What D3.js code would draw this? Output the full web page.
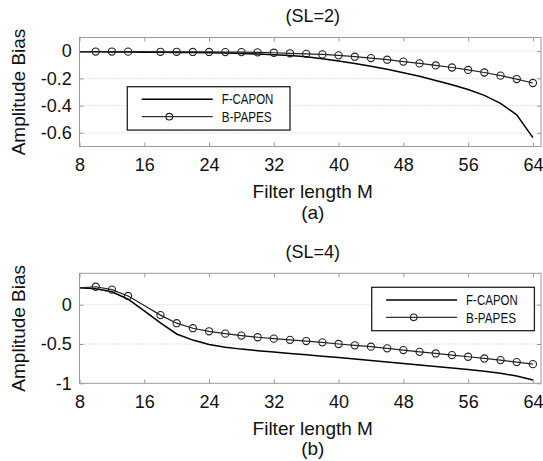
<!DOCTYPE html>
<html>
<head>
<meta charset="utf-8">
<script src="https://cdn.jsdelivr.net/npm/d3@7"></script>
<style>
  html, body { margin: 0; padding: 0; background: #fff; }
  svg { display: block; font-family: "Liberation Sans", Arial, Helvetica, sans-serif; }
</style>
</head>
<body>
<svg id="chart" width="543" height="461"></svg>
<script>
// ---- data ----
const filterM = [8,10,12,14,16,18,20,22,24,26,28,30,32,34,36,38,40,42,44,46,48,50,52,54,56,58,60,62,64];
const markerM = [10,12,14,18,20,22,24,26,28,30,32,34,36,38,40,42,44,46,48,50,52,54,56,58,60,62,64];

const caponSL2 = [-0.005,-0.005,-0.006,-0.007,-0.008,-0.009,-0.010,-0.011,-0.012,-0.014,-0.017,-0.021,-0.027,-0.033,-0.041,-0.056,-0.073,-0.091,-0.111,-0.133,-0.158,-0.185,-0.215,-0.247,-0.282,-0.325,-0.383,-0.468,-0.635];
const papesSL2 = [-0.003,-0.003,-0.003,-0.004,-0.004,-0.005,-0.005,-0.006,-0.006,-0.007,-0.007,-0.009,-0.012,-0.016,-0.020,-0.024,-0.031,-0.041,-0.051,-0.063,-0.077,-0.090,-0.105,-0.120,-0.138,-0.157,-0.180,-0.205,-0.234];

const caponSL4 = [0.215,0.203,0.165,0.070,-0.078,-0.232,-0.372,-0.450,-0.505,-0.540,-0.565,-0.585,-0.603,-0.620,-0.637,-0.655,-0.672,-0.690,-0.710,-0.728,-0.748,-0.767,-0.786,-0.805,-0.825,-0.847,-0.873,-0.907,-0.957];
const papesSL4 = [0.215,0.229,0.192,0.111,-0.010,-0.132,-0.235,-0.299,-0.338,-0.368,-0.393,-0.414,-0.432,-0.447,-0.462,-0.479,-0.500,-0.517,-0.534,-0.555,-0.577,-0.600,-0.620,-0.641,-0.662,-0.684,-0.705,-0.730,-0.756];

const xTicks = [8,16,24,32,40,48,56,64];
const yTicksSL2 = [0,-0.2,-0.4,-0.6];
const yTicksSL4 = [0,-0.5,-1];
const seriesNames = ["F-CAPON","B-PAPES"];
const titles = ["(SL=2)","(SL=4)"];
const subLabels = ["(a)","(b)"];
const xLabel = "Filter length M";
const yLabel = "Amplitude Bias";

// ---- layout ----
const svg = d3.select("#chart");
const plotLeft = 79.5, plotRight = 541;
const x = d3.scaleLinear().domain([8, 65]).range([plotLeft, plotRight]);

const panels = [
  { top: 37.5, bottom: 146.5, yDomain: [-0.7, 0.1], yTicks: yTicksSL2,
    capon: caponSL2, papes: papesSL2, title: titles[0], sub: subLabels[0],
    legend: { x: 127.3, y: 86.7 } },
  { top: 273.3, bottom: 383.3, yDomain: [-1, 0.4], yTicks: yTicksSL4,
    capon: caponSL4, papes: papesSL4, title: titles[1], sub: subLabels[1],
    legend: { x: 371.7, y: 287.3 } }
];

const boxColor = "#9a9a9a";

panels.forEach((p, pi) => {
  const y = d3.scaleLinear().domain(p.yDomain).range([p.bottom, p.top]);
  const g = svg.append("g");
  const cx = (plotLeft + plotRight) / 2 + 2.5;

  // grid
  g.append("g").selectAll("line").data(p.yTicks.filter(t => y(t) < p.bottom - 1))
    .join("line")
    .attr("x1", plotLeft).attr("x2", plotRight)
    .attr("y1", d => y(d)).attr("y2", d => y(d))
    .attr("stroke", "#c8c8c8").attr("stroke-width", 1)
    .attr("stroke-dasharray", "1,2");

  // axes
  const axB = g.append("g").attr("transform", `translate(0,${p.bottom})`)
    .call(d3.axisBottom(x).tickValues(xTicks).tickSize(-4).tickPadding(12.2).tickFormat(d => String(d)));
  const axT = g.append("g").attr("transform", `translate(0,${p.top})`)
    .call(d3.axisTop(x).tickValues(xTicks).tickSize(-4).tickFormat(""));
  const axL = g.append("g").attr("transform", `translate(${plotLeft},0)`)
    .call(d3.axisLeft(y).tickValues(p.yTicks).tickSize(-4).tickPadding(7.8).tickFormat(d => String(d)));
  const axR = g.append("g").attr("transform", `translate(${plotRight},0)`)
    .call(d3.axisRight(y).tickValues(p.yTicks).tickSize(-4).tickFormat(""));
  [axB, axT, axL, axR].forEach(a => {
    a.select(".domain").remove();
    a.selectAll(".tick line").attr("stroke", boxColor);
    a.selectAll("text").attr("font-size", 18).attr("fill", "#111")
      .attr("font-family", '"Liberation Sans", Arial, sans-serif');
  });

  // clip
  const clipId = "clip" + pi;
  svg.append("clipPath").attr("id", clipId).append("rect")
    .attr("x", plotLeft).attr("y", p.top)
    .attr("width", plotRight - plotLeft).attr("height", p.bottom - p.top);

  const data = g.append("g").attr("clip-path", `url(#${clipId})`);
  const line = d3.line().x((d, i) => x(filterM[i])).y(d => y(d));

  data.append("path").datum(p.capon).attr("d", line)
    .attr("fill", "none").attr("stroke", "#000").attr("stroke-width", 1.5);
  data.append("path").datum(p.papes).attr("d", line)
    .attr("fill", "none").attr("stroke", "#222").attr("stroke-width", 1.2);
  data.append("g").selectAll("circle").data(markerM).join("circle")
    .attr("cx", m => x(m))
    .attr("cy", m => y(p.papes[filterM.indexOf(m)]))
    .attr("r", 3.6).attr("fill", "none").attr("stroke", "#222").attr("stroke-width", 1.1);

  // box
  g.append("rect").attr("x", plotLeft).attr("y", p.top)
    .attr("width", plotRight - plotLeft).attr("height", p.bottom - p.top)
    .attr("fill", "none").attr("stroke", boxColor).attr("stroke-width", 1);

  // legend
  const L = g.append("g").attr("transform", `translate(${p.legend.x},${p.legend.y})`);
  L.append("rect").attr("width", 162.7).attr("height", 43.4)
    .attr("fill", "#fff").attr("stroke", "#222").attr("stroke-width", 1.3);
  L.append("line").attr("x1", 14.4).attr("x2", 85.4).attr("y1", 12.6).attr("y2", 12.6)
    .attr("stroke", "#000").attr("stroke-width", 1.5);
  L.append("line").attr("x1", 14.4).attr("x2", 85.4).attr("y1", 30).attr("y2", 30)
    .attr("stroke", "#333").attr("stroke-width", 1.2);
  L.append("circle").attr("cx", 42).attr("cy", 30).attr("r", 3.3)
    .attr("fill", "none").attr("stroke", "#222").attr("stroke-width", 1.1);
  L.append("text").attr("x", 94.4).attr("y", 17.8).text(seriesNames[0])
    .attr("font-size", 14).attr("textLength", 51.7).attr("lengthAdjust", "spacingAndGlyphs").attr("fill", "#111");
  L.append("text").attr("x", 94.4).attr("y", 35.4).text(seriesNames[1])
    .attr("font-size", 14).attr("textLength", 50).attr("lengthAdjust", "spacingAndGlyphs").attr("fill", "#111");

  // titles and labels
  g.append("text").attr("x", cx).attr("y", p.top - 15.5).attr("text-anchor", "middle")
    .attr("font-size", 18).attr("fill", "#111").text(p.title);
  g.append("text").attr("x", cx).attr("y", p.bottom + 51.5).attr("text-anchor", "middle")
    .attr("font-size", 19).attr("fill", "#111").text(xLabel);
  g.append("text").attr("x", cx).attr("y", p.bottom + 72).attr("text-anchor", "middle")
    .attr("font-size", 19).attr("fill", "#111").text(p.sub);
  g.append("text").attr("transform", `translate(25,${(p.top + p.bottom) / 2}) rotate(-90)`)
    .attr("text-anchor", "middle").attr("font-size", 19).attr("fill", "#111").text(yLabel);
});
</script>
</body>
</html>
